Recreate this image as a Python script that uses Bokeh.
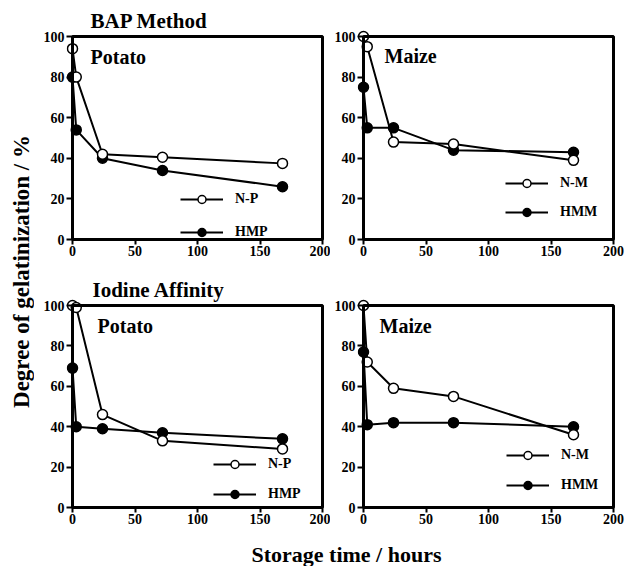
import math
from bokeh.plotting import figure
from bokeh.models import (Range1d, LinearAxis, FixedTicker, BoxAnnotation, Legend,
                          LegendItem, Label)
from bokeh.layouts import row, column
from bokeh.embed import file_html
from bokeh.resources import INLINE

# ---------------- data ----------------
hours = [0, 3, 24, 72, 168]
x_ticks = [0, 50, 100, 150, 200]
y_ticks = [0, 20, 40, 60, 80, 100]

bap_potato_native = [94, 80, 42, 40.5, 37.5]
bap_potato_hm = [80, 54, 40, 34, 26]
bap_maize_native = [100, 95, 48, 47, 39]
bap_maize_hm = [75, 55, 55, 44, 43]
iod_potato_native = [100, 99, 46, 33, 29]
iod_potato_hm = [69, 40, 39, 37, 34]
iod_maize_native = [100, 72, 59, 55, 36]
iod_maize_hm = [77, 41, 42, 42, 40]

method_titles = ["BAP Method", "Iodine Affinity"]
samples = ["Potato", "Maize"]
potato_labels = ["N-P", "HMP"]
maize_labels = ["N-M", "HMM"]
y_label = "Degree of gelatinization / %"
x_label = "Storage time / hours"

SERIF = "Liberation Serif"
PLOT_W = 250          # px for 0..200 h
PAD_L, PAD_R, PAD_B = 6, 3, 2


def panel(native, hm, labels, sample, plot_h, pad_t, mb_left, mb_right, mb_top, mb_bottom,
          legend_xy, legend_gap, sample_xy, title=None, title_xy=None):
    xs = PLOT_W / 200.0
    ys = plot_h / 100.0
    fw = PLOT_W + PAD_L + PAD_R
    fh = plot_h + pad_t + PAD_B
    p = figure(width=mb_left + fw + mb_right,
               height=mb_top + fh + mb_bottom,
               x_range=Range1d(-PAD_L / xs, 200 + PAD_R / xs),
               y_range=Range1d(-PAD_B / ys, 100 + pad_t / ys),
               x_axis_type=None, y_axis_type=None,
               output_backend="svg", toolbar_location=None,
               min_border_left=mb_left, min_border_right=mb_right,
               min_border_top=mb_top, min_border_bottom=mb_bottom)
    p.outline_line_color = None

    xaxis = LinearAxis(ticker=FixedTicker(ticks=x_ticks),
                       major_tick_in=PAD_B, major_tick_out=3, major_label_standoff=1)
    yaxis = LinearAxis(ticker=FixedTicker(ticks=y_ticks),
                       major_tick_in=PAD_L, major_tick_out=0, major_label_standoff=2)
    for ax, loc in ((xaxis, "below"), (yaxis, "left")):
        ax.axis_line_color = None
        ax.major_tick_line_width = 2
        ax.major_tick_line_color = "black"
        ax.minor_tick_line_color = None
        ax.major_label_text_font = SERIF
        ax.major_label_text_font_style = "bold"
        ax.major_label_text_font_size = "14px"
        ax.major_label_text_color = "black"
        p.add_layout(ax, loc)

    box = BoxAnnotation(left=0, right=200, bottom=0, top=100, fill_color=None,
                        fill_alpha=0, line_color="black", line_alpha=1, line_width=3)
    p.add_layout(box)

    l1 = p.line(hours, native, line_color="black", line_width=2)
    l2 = p.line(hours, hm, line_color="black", line_width=2)
    c2 = p.scatter(hours, hm, marker="circle", size=10, fill_color="black",
                   line_color="black", line_width=1.5)
    c1 = p.scatter(hours, native, marker="circle", size=10, fill_color="white",
                   line_color="black", line_width=1.5)

    leg = Legend(items=[LegendItem(label=labels[0], renderers=[l1, c1]),
                        LegendItem(label=labels[1], renderers=[l2, c2])],
                 location=legend_xy, orientation="vertical",
                 glyph_width=43, glyph_height=20, label_height=20,
                 label_standoff=12, spacing=legend_gap, padding=0, margin=0,
                 border_line_color=None, background_fill_alpha=0,
                 label_text_font=SERIF, label_text_font_style="bold",
                 label_text_font_size="14px", label_text_color="black")
    p.add_layout(leg, "center")

    p.add_layout(Label(x=sample_xy[0], y=sample_xy[1], text=sample,
                       text_font=SERIF, text_font_style="bold",
                       text_font_size="20px", text_color="black",
                       text_baseline="alphabetic"))
    if title is not None:
        p.add_layout(Label(x=title_xy[0], y=title_xy[1], text=title,
                           text_font=SERIF, text_font_style="bold",
                           text_font_size="21px", text_color="black",
                           text_baseline="alphabetic"))
    return p


# top row: frame 8..241 ; bottom row: frame 267..509
tl = panel(bap_potato_native, bap_potato_hm, potato_labels, samples[0],
           203, 28, 32, 5, 8, 24, (114, -1), 13, (14.4, 90), method_titles[0], (14.4, 107.5))
tr = panel(bap_maize_native, bap_maize_hm, maize_labels, samples[1],
           203, 28, 27, 10, 8, 24, (148, 19), 9, (16.8, 90.4))
bl = panel(iod_potato_native, iod_potato_hm, potato_labels, samples[0],
           202, 38, 32, 5, 2, 21, (147, 5), 10, (20, 89.8), method_titles[1], (16, 107.7))
br = panel(iod_maize_native, iod_maize_hm, maize_labels, samples[1],
           202, 38, 27, 10, 2, 21, (149, 14), 10, (12.8, 89.8))

# shared y-axis label
YL_W, YL_H = 34, 530
ylab = figure(width=YL_W, height=YL_H, x_range=Range1d(0, YL_W), y_range=Range1d(0, YL_H),
              x_axis_type=None, y_axis_type=None, output_backend="svg",
              toolbar_location=None, min_border=0)
ylab.outline_line_color = None
ylab.add_layout(Label(x=21, y=259, text=y_label, angle=math.pi / 2,
                      text_align="center", text_baseline="middle",
                      text_font=SERIF, text_font_style="bold",
                      text_font_size="23px", text_color="black"))

# shared x-axis label
XL_W, XL_H = 626, 36
xlab = figure(width=XL_W, height=XL_H, x_range=Range1d(0, XL_W), y_range=Range1d(0, XL_H),
              x_axis_type=None, y_axis_type=None, output_backend="svg",
              toolbar_location=None, min_border=0)
xlab.outline_line_color = None
xlab.add_layout(Label(x=346, y=12, text=x_label, text_align="center",
                      text_baseline="alphabetic",
                      text_font=SERIF, text_font_style="bold",
                      text_font_size="22px", text_color="black"))

layout = column(row(ylab, column(row(tl, tr), row(bl, br))), xlab)

open("out.html", "w").write(file_html(layout, INLINE))
